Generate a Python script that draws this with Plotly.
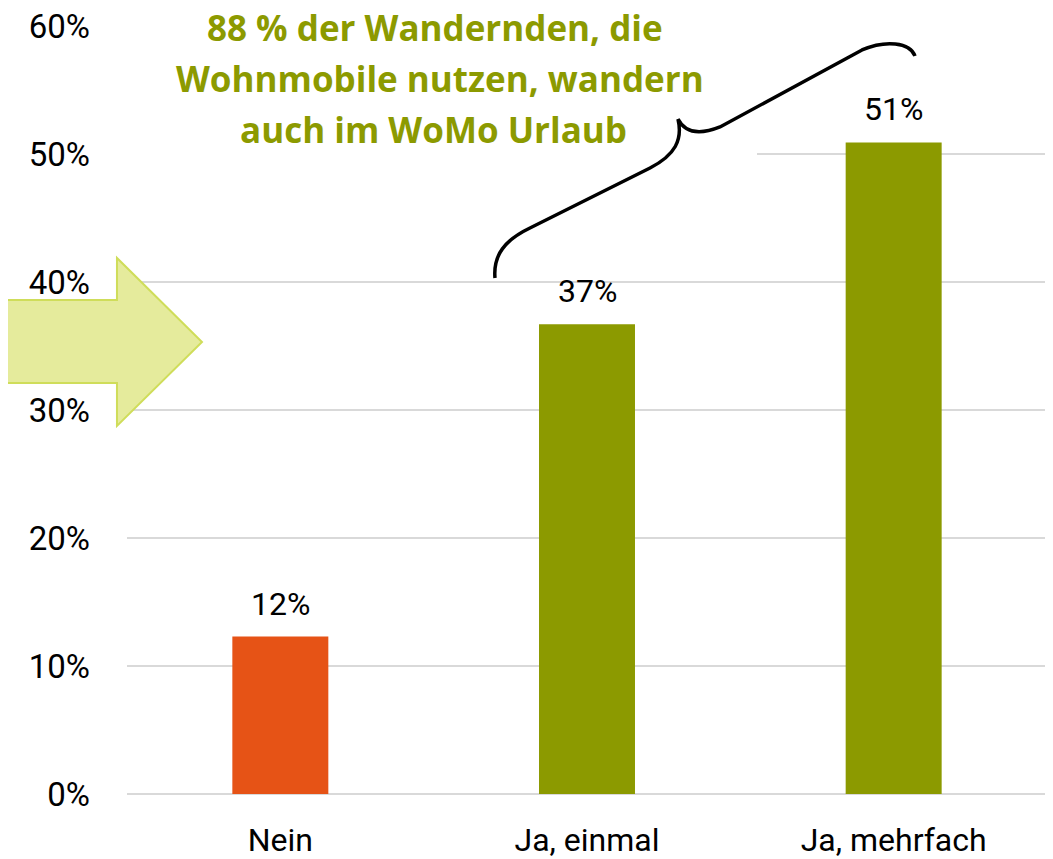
import plotly.graph_objects as go

categories = ["Nein", "Ja, einmal", "Ja, mehrfach"]
values = [12.3, 36.7, 50.9]
labels = ["12%", "37%", "51%"]
bar_colors = ["#E65316", "#8C9A00"]
tick_vals = [0, 10, 20, 30, 40, 50, 60]
tick_text = ["0%", "10%", "20%", "30%", "40%", "50%", "60%"]
callout_lines = ["88 % der Wandernden, die", "Wohnmobile nutzen, wandern", "auch im WoMo Urlaub"]

OFF = 8  # page body margin
W, H = 1053 - OFF, 859 - OFF
# plot area in screenshot pixels: x 127..1047, y 26..794
ML, MT = 127 - OFF, 26 - OFF
MR = W - (1047 - OFF)
MB = H - (794 - OFF)
PW, PH = W - ML - MR, H - MT - MB

def px(x, y):
    x, y = x - OFF, y - OFF
    return (x - ML) / PW, (H - MB - y) / PH

def path(cmds):
    out = []
    for cmd, pts in cmds:
        coords = []
        for (x, y) in pts:
            a, b = px(x, y)
            coords.append(f"{a:.4f},{b:.4f}")
        out.append(cmd + " " + " ".join(coords))
    return " ".join(out)

font = "Roboto, sans-serif"
bold_font = "Open Sans, sans-serif"

fig = go.Figure()
fig.add_trace(go.Bar(
    x=categories, y=values,
    marker=dict(color=[bar_colors[0], bar_colors[1], bar_colors[1]], line=dict(width=0)),
    hoverinfo="skip",
))

for c, v, t in zip(categories, values, labels):
    fig.add_annotation(x=c, y=v, text=t, showarrow=False, yanchor="bottom", yshift=12,
                       font=dict(family=font, size=32, color="#000000"))

# white text box behind the callout (hides gridlines there)
x0, y0 = px(120, 8)
x1, y1 = px(757, 162)
fig.add_shape(type="rect", xref="paper", yref="paper", x0=x0, y0=y0, x1=x1, y1=y1,
              fillcolor="white", line=dict(width=0), layer="above")

arrow = path([
    ("M", [(-5, 300)]),
    ("L", [(117, 300)]),
    ("L", [(117, 258)]),
    ("L", [(202, 342)]),
    ("L", [(117, 426)]),
    ("L", [(117, 383)]),
    ("L", [(-5, 383)]),
]) + " Z"
fig.add_shape(type="path", xref="paper", yref="paper", path=arrow,
              fillcolor="#E5EB9C", line=dict(color="#CFDD5A", width=2), layer="above")

brace = path([
    ("M", [(495, 278)]),
    ("C", [(493, 255), (505, 240), (530, 228)]),
    ("L", [(650, 168)]),
    ("C", [(675, 155), (683, 140), (678, 119)]),
    ("C", [(685, 133), (700, 135), (720, 127)]),
    ("L", [(862, 50)]),
    ("C", [(885, 40), (910, 42), (915, 56)]),
])
fig.add_shape(type="path", xref="paper", yref="paper", path=brace,
              line=dict(color="#000000", width=3.5), layer="above")

for line, (lx, ly) in zip(callout_lines, [(435, 28), (440, 79), (433, 130)]):
    cx, cy = px(lx, ly)
    fig.add_annotation(xref="paper", yref="paper", x=cx, y=cy, text="<b>" + line + "</b>",
                       showarrow=False, xanchor="center", yanchor="middle", align="center",
                       font=dict(family=bold_font, size=35, color="#8C9A00"))

fig.update_layout(
    width=W, height=H,
    margin=dict(l=ML, r=MR, t=MT, b=MB, autoexpand=False),
    paper_bgcolor="white", plot_bgcolor="white",
    bargap=0.687, showlegend=False,
    font=dict(family=font, size=32, color="#000000"),
)
fig.update_xaxes(showgrid=False, showline=False, ticks="", ticklabelstandoff=24, automargin=False,
                 tickfont=dict(family=font, size=32, color="#000000"))
fig.update_yaxes(range=[0, 60], tickvals=tick_vals, ticktext=tick_text, showgrid=True,
                 gridcolor="#D9D9D9", gridwidth=2, zeroline=True, zerolinecolor="#D9D9D9",
                 zerolinewidth=2, showline=False, ticks="", ticklabelstandoff=36, automargin=False,
                 ticklabeloverflow="allow",
                 tickfont=dict(family=font, size=33, color="#000000"))

fig.write_html("out.html")
